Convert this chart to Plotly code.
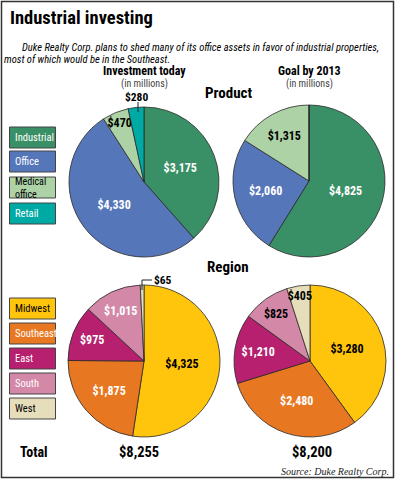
import plotly.graph_objects as go

W, H = 396, 480

# ---- data ----
product_cats = ["Industrial", "Office", "Medical<br>office", "Retail"]
product_colors = ["#3a9066", "#5676ba", "#acd2a6", "#00aaa4"]
product_text_colors = ["white", "white", "black", "white"]
product_today = [3175, 4330, 470, 280]
product_goal = [4825, 2060, 1315, 0]

region_cats = ["Midwest", "Southeast", "East", "South", "West"]
region_colors = ["#ffc50d", "#e87722", "#b6206e", "#d388a8", "#e6deba"]
region_today = [4325, 1875, 975, 1015, 65]
region_goal = [3280, 2480, 1210, 825, 405]
region_today_text_colors = ["black", "white", "white", "white", "black"]
region_goal_text_colors = ["black", "white", "white", "black", "black"]

total_today = "$8,255"
total_goal = "$8,200"

COND = "Roboto Condensed, Open Sans Condensed, DejaVu Sans Condensed, sans-serif"


def px(x):
    return x / W


def py(y):
    return 1 - y / H


def dom(cx, cy, r):
    return dict(x=[px(cx - r), px(cx + r)], y=[py(cy + r), py(cy - r)])


def fmt(v):
    return "$" + format(v, ",")


def pie(values, labels, colors, tcolors, domain, hide_small):
    texts = [fmt(v) if (v > 0 and not hide_small(v)) else "" for v in values]
    return go.Pie(
        values=values, labels=[l.replace("<br>", " ") for l in labels],
        marker=dict(colors=colors, line=dict(color="#2a2a2a", width=0.8)),
        text=texts, textinfo="text", textposition="inside",
        insidetextorientation="horizontal",
        textfont=dict(family=COND, size=12, color=tcolors, weight="bold"),
        sort=False, direction="clockwise", rotation=0,
        domain=domain, showlegend=False, hoverinfo="label+value",
    )


fig = go.Figure()
fig.add_trace(pie(product_today, product_cats, product_colors, product_text_colors,
                  dom(144, 182, 75), lambda v: v < 300))
fig.add_trace(pie(product_goal, product_cats, product_colors, product_text_colors,
                  dom(309, 181, 76), lambda v: v < 100))
fig.add_trace(pie(region_today, region_cats, region_colors, region_today_text_colors,
                  dom(144, 361, 76), lambda v: v < 100))
fig.add_trace(pie(region_goal, region_cats, region_colors, region_goal_text_colors,
                  dom(310, 361, 76), lambda v: v < 100))

shapes = []
annotations = []


def text(x, y, s, size, bold=False, color="black", xanchor="center", italic=False,
         family=COND, align="center"):
    annotations.append(dict(
        x=px(x), y=py(y), xref="paper", yref="paper", text=s, showarrow=False,
        xanchor=xanchor, yanchor="middle", align=align, borderpad=0,
        font=dict(family=family, size=size, color=color,
                  weight="bold" if bold else "normal",
                  style="italic" if italic else "normal"),
    ))


# frame
shapes.append(dict(type="rect", xref="paper", yref="paper", x0=px(1.5), x1=px(393.5),
                   y0=py(477.5), y1=py(1.5), line=dict(color="#333", width=1.5)))

text(9, 18, "Industrial investing", 18.5, bold=True, xanchor="left")
text(21, 47.5, "Duke Realty Corp. plans to shed many of its office assets in favor of industrial properties,",
     10.5, italic=True, xanchor="left")
text(3, 59.5, "most of which would be in the Southeast.", 10.5, italic=True, xanchor="left")

text(144, 71, "Investment today", 12, bold=True)
text(144, 83.5, "(in millions)", 10, color="#444")
text(309, 71, "Goal by 2013", 12, bold=True)
text(309, 83.5, "(in millions)", 10, color="#444")
text(228, 93, "Product", 15, bold=True)
text(228, 267, "Region", 15, bold=True)

# retail callout
text(136, 96.5, fmt(product_today[3]), 11.5, bold=True)
shapes.append(dict(type="line", xref="paper", yref="paper", x0=px(138), x1=px(138),
                   y0=py(102), y1=py(112), line=dict(color="#222", width=1)))
# west callout
text(153, 280, fmt(region_today[4]), 11.5, bold=True, xanchor="left")
shapes.append(dict(type="path", xref="paper", yref="paper",
                   path=f"M {px(142)},{py(290)} L {px(142)},{py(280)} L {px(152)},{py(280)}",
                   line=dict(color="#222", width=1)))


# legends
def legend(cats, colors, tcolors, tops):
    for c, col, tc, t in zip(cats, colors, tcolors, tops):
        shapes.append(dict(type="rect", xref="paper", yref="paper", x0=px(9.5), x1=px(55.5),
                           y0=py(t + 21), y1=py(t), fillcolor=col,
                           line=dict(color="#444", width=1)))
        annotations.append(dict(
            x=px(13.5), y=py(t + 10.5), xref="paper", yref="paper", text=c, showarrow=False,
            xanchor="left", yanchor="middle", align="left", borderpad=0,
            font=dict(family=COND, size=10.5 if "<br>" not in c else 10, color=tc),
        ))


legend(product_cats, product_colors, ["white", "white", "black", "white"], [127, 151, 177, 203])
legend(region_cats, region_colors, ["black", "white", "white", "white", "black"],
       [298, 323, 348, 373, 398])

text(19, 452, "Total", 14, bold=True, xanchor="left")
text(139, 452, total_today, 14.5, bold=True)
text(312, 452, total_goal, 14.5, bold=True)
text(390, 471, "Source: Duke Realty Corp.", 10, italic=True, xanchor="right",
     family="Liberation Serif, DejaVu Serif, serif", color="#222")

fig.update_layout(width=W, height=H, margin=dict(l=0, r=0, t=0, b=0),
                  paper_bgcolor="white", plot_bgcolor="white",
                  uniformtext=dict(minsize=12, mode="show"),
                  shapes=shapes, annotations=annotations)
fig.write_html("out.html", config={"displayModeBar": False},
               post_script="document.body.style.margin='0';document.body.style.overflow='hidden';")
